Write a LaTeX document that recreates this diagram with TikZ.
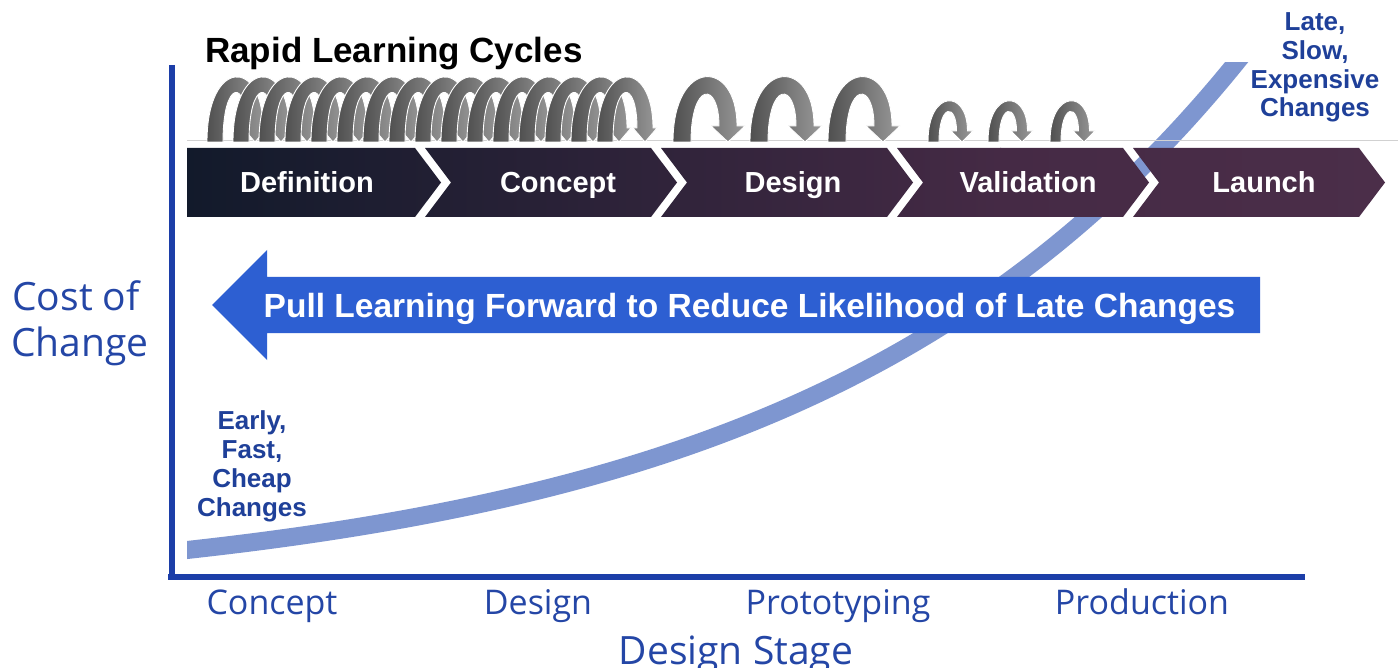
\documentclass[tikz,border=0pt]{standalone}
\usepackage{fontspec}
\setmainfont{Liberation Sans}
\newfontfamily\opensans{Open Sans}
\definecolor{axisblue}{HTML}{1C3EA8}
\definecolor{labblue}{HTML}{2446A6}
\definecolor{txtblue}{HTML}{1F4099}
\definecolor{curveblue}{HTML}{7E96D0}
\definecolor{arrowblue}{HTML}{2D5FD2}
\definecolor{chevA}{HTML}{121A2B}
\definecolor{chevB}{HTML}{452A45}
\definecolor{chevC}{HTML}{4B2E49}
\definecolor{cycdark}{HTML}{505050}
\definecolor{cyclight}{HTML}{999999}
\newcommand\cyclearrow[6]{%
  \pgfmathsetmacro\xa{#1}%
  \pgfmathsetmacro\xt{#1+#2}%
  \pgfmathsetmacro\cy{#3-(142-#3)*0.36}%
  \pgfmathsetmacro\th{#4}%
  \pgfmathsetmacro\hw{#5}%
  \pgfmathsetmacro\hb{142-#6}%
  \path[cyc] (\xa,142) .. controls (\xa,\cy) and ({\xt+\th/2},\cy) .. ({\xt+\th/2},\hb)
    -- ({\xt+\hw},\hb) -- (\xt,142) -- ({\xt-\hw},\hb) -- ({\xt-\th/2},\hb)
    .. controls ({\xt-\th/2},{\cy+1.3*\th}) and ({\xa+\th},{\cy+1.3*\th}) .. ({\xa+\th},142) -- cycle;
}
\begin{document}
\begin{tikzpicture}[x=1pt,y=-1pt,
  cyc/.style={draw=white, line width=0.9pt, left color=cycdark, right color=cyclight},
  axis/.style={draw=axisblue, line width=6.5pt},
  axlab/.style={text=labblue, inner sep=0pt, anchor=base, font=\opensans\fontsize{34}{40}\selectfont},
  chevtxt/.style={text=white, inner sep=0pt, anchor=base, font=\fontsize{29}{34}\selectfont\bfseries},
  side/.style={text=txtblue, inner sep=0pt, anchor=base, align=center, font=\fontsize{26}{28.8}\selectfont\bfseries},
  curve/.style={draw=curveblue, line width=18pt}
]
\useasboundingbox[fill=white] (0,0) rectangle (1400,668);

% cost curve (exponential)
\begin{scope}
  \clip (187,63) rectangle (1400,668);
  \draw[curve] plot[domain=170:1262, samples=160] (\x, {550-47.7*(exp(0.0023*(\x-187))-1)});
\end{scope}

% axes
\coordinate (ytop) at (172,65);
\coordinate (orig) at (172,577);
\coordinate (xend) at (1305,577);
\draw[axis] (ytop) -- (172,580);
\draw[axis] (168,577) -- (xend);

% axis labels
\node[axlab, font=\opensans\fontsize{39}{46}\selectfont] (cost) at (76,310) {Cost of};
\node[axlab, font=\opensans\fontsize{39}{46}\selectfont] (chg) at (80,356) {Change};
\node[axlab] (xc) at (272,614) {Concept};
\node[axlab] (xd) at (538,614) {Design};
\node[axlab] (xp) at (838,614) {Prototyping};
\node[axlab] (xpr) at (1142,614) {Production};
\node[axlab, font=\opensans\fontsize{39}{46}\selectfont] (stage) at (736,664) {Design Stage};

% title
\node[anchor=base west, inner sep=0pt, font=\fontsize{35}{40}\selectfont\bfseries] (title) at (205,63) {Rapid Learning Cycles};

% thin line above chevrons
\draw[draw=black!18, line width=1pt] (187,141) -- (1398,141);

% cycle arrows
\foreach \k in {0,...,15} {\cyclearrow{207+26*\k}{48}{80}{16}{12}{14}}
\foreach \xx in {673,750,828} {\cyclearrow{\xx}{55}{80}{18}{17}{16}}
\foreach \xx in {928,988,1050} {\cyclearrow{\xx}{34}{103}{11}{11}{11}}

% chevrons
\begin{scope}
  \clip (187,148) -- (415,148) -- (441,182.5) -- (415,217) -- (187,217) -- cycle
        (425,148) -- (651,148) -- (677,182.5) -- (651,217) -- (425,217) -- (451,182.5) -- cycle
        (661,148) -- (887,148) -- (913,182.5) -- (887,217) -- (661,217) -- (687,182.5) -- cycle
        (897,148) -- (1123,148) -- (1149,182.5) -- (1123,217) -- (897,217) -- (923,182.5) -- cycle
        (1133,148) -- (1359,148) -- (1385,182.5) -- (1359,217) -- (1133,217) -- (1159,182.5) -- cycle;
  \shade[left color=chevA, right color=chevB] (186,147) rectangle (1001,218);
  \shade[left color=chevB, right color=chevC] (1000,147) rectangle (1386,218);
\end{scope}
\node[chevtxt] (c1) at (307,193) {Definition};
\node[chevtxt] (c2) at (558,193) {Concept};
\node[chevtxt] (c3) at (793,193) {Design};
\node[chevtxt] (c4) at (1028,193) {Validation};
\node[chevtxt] (c5) at (1264,193) {Launch};

% big blue arrow
\fill[arrowblue] (212,305) -- (267,250) -- (267,277) -- (1260,277) -- (1260,333) -- (267,333) -- (267,360) -- cycle;
\node[text=white, inner sep=0pt, anchor=base, font=\fontsize{33.5}{38}\selectfont\bfseries] (pull) at (749.5,317) {Pull Learning Forward to Reduce Likelihood of Late Changes};

% side labels (base anchor = baseline of last line)
\node[side] (early) at (252,516) {Early,\\Fast,\\Cheap\\Changes};
\node[side] (late) at (1315,117) {Late,\\Slow,\\Expensive\\Changes};
\end{tikzpicture}
\end{document}
